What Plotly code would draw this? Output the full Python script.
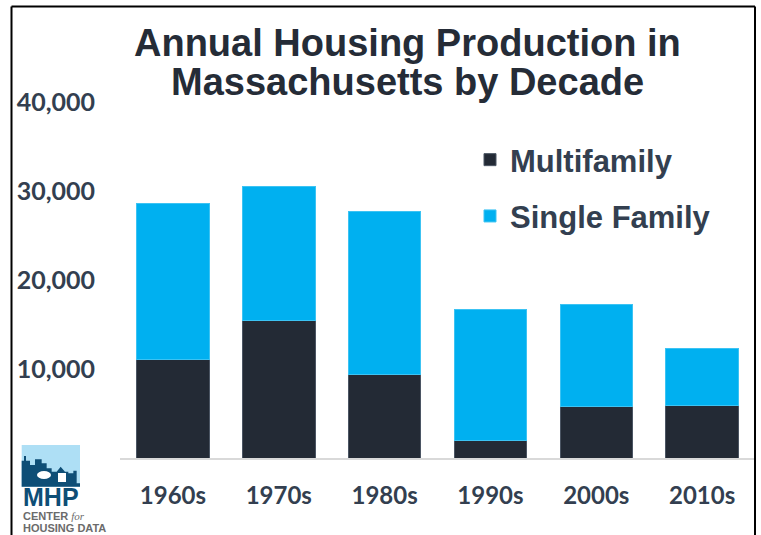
import plotly.graph_objects as go

decades = ["1960s", "1970s", "1980s", "1990s", "2000s", "2010s"]
multifamily = [11100, 15400, 9400, 2000, 5800, 5900]
single_family = [17500, 15100, 18300, 14700, 11400, 6400]
y_tickvals = [10000, 20000, 30000, 40000]
y_ticktext = ["10,000", "20,000", "30,000", "40,000"]

W, H = 761, 535
ML, MR, MT, MB = 120, 6, 102, 77
PW, PH = W - ML - MR, H - MT - MB


def px(x):
    return (x - ML) / PW


def py(y):
    return (H - MB - y) / PH


LABEL = "#333F50"
TITLE = "#252C37"
DARK = "#232A35"
BLUE = "#00B0F0"
ARIAL = "Liberation Sans, Arial, sans-serif"
NARROW = "Liberation Sans Narrow, Arial Narrow, sans-serif"

fig = go.Figure()
fig.add_trace(go.Bar(x=decades, y=multifamily, name="Multifamily", legendgroup="a",
                     marker=dict(color=DARK, line=dict(color="#4B5563", width=1))))
fig.add_trace(go.Bar(x=decades, y=single_family, name="Single Family", legendgroup="b",
                     marker=dict(color=BLUE, line=dict(color="#3CC3F3", width=1))))

fig.update_layout(
    width=W, height=H, autosize=False,
    margin=dict(l=ML, r=MR, t=MT, b=MB, pad=0),
    barmode="stack", bargap=0.315,
    paper_bgcolor="white", plot_bgcolor="white",
    showlegend=True,
    legend=dict(x=px(470), y=py(133), xanchor="left", yanchor="top",
                traceorder="grouped", tracegroupgap=13,
                font=dict(family=ARIAL, size=31, color=LABEL, weight="bold"),
                bgcolor="rgba(0,0,0,0)"),
    xaxis=dict(showgrid=False, showline=True, linecolor="#D9D9D9", linewidth=2,
               ticks="", ticklabelstandoff=15,
               tickfont=dict(family="Lato, sans-serif", size=24, color=LABEL, weight="bold")),
    yaxis=dict(range=[0, 40000], showgrid=False, zeroline=False, showline=False,
               tickvals=y_tickvals, ticktext=y_ticktext, ticks="", ticklabelstandoff=24,
               tickfont=dict(family="Lato, sans-serif", size=25, color=LABEL, weight="bold")),
)

# Title (two lines, tight spacing)
for txt, yc in [("Annual Housing Production in", 43), ("Massachusetts by Decade", 82)]:
    fig.add_annotation(text=txt, xref="paper", yref="paper", x=px(407), y=py(yc),
                       xanchor="center", yanchor="middle", showarrow=False,
                       font=dict(family=ARIAL, size=38, color=TITLE, weight="bold"))

# Frame border
border = dict(color="black", width=2)
fig.add_shape(type="line", xref="paper", yref="paper", x0=px(11.5), x1=px(11.5), y0=py(6.5), y1=py(560), line=border)
fig.add_shape(type="line", xref="paper", yref="paper", x0=px(11.5), x1=px(755), y0=py(6.5), y1=py(6.5), line=border)
fig.add_shape(type="line", xref="paper", yref="paper", x0=px(755), x1=px(755), y0=py(6.5), y1=py(560), line=border)

# Logo
fig.add_shape(type="rect", xref="paper", yref="paper", x0=px(21.7), x1=px(80), y0=py(445), y1=py(486.7),
              fillcolor="#AEDFF5", line=dict(width=0))
sky = [(35, 140), (35, 62), (42, 62), (42, 48), (48, 48), (48, 62), (60, 62), (60, 75), (75, 75),
       (75, 58), (95, 58), (95, 70), (110, 70), (110, 85), (125, 85), (125, 95), (140, 95), (152, 80),
       (165, 95), (175, 95), (175, 100), (190, 100), (190, 92), (200, 92), (200, 130), (210, 130),
       (210, 140)]
path = "M " + " L ".join(f"{px(10 + a / 3):.5f},{py(440 + b / 3):.5f}" for a, b in sky) + " Z"
fig.add_shape(type="path", xref="paper", yref="paper", path=path, fillcolor="#0E4E76", line=dict(width=0))
fig.add_shape(type="circle", xref="paper", yref="paper", x0=px(37), x1=px(51), y0=py(471), y1=py(479),
              fillcolor="white", line=dict(width=0))
fig.add_shape(type="rect", xref="paper", yref="paper", x0=px(58), x1=px(66), y0=py(473), y1=py(482),
              fillcolor="white", line=dict(width=0))
fig.add_annotation(text="MHP", xref="paper", yref="paper", x=px(51), y=py(497), xanchor="center",
                   yanchor="middle", showarrow=False, borderpad=0,
                   font=dict(family=ARIAL, size=25, color="#0E4E76", weight="bold"))
fig.add_annotation(text="CENTER <span style='font-family:Liberation Serif;font-style:italic;font-weight:normal'>for</span>",
                   xref="paper", yref="paper", x=px(22), y=py(516), xanchor="left",
                   yanchor="middle", showarrow=False, borderpad=0,
                   font=dict(family=NARROW, size=11, color="#6B6B6B", weight="bold"))
fig.add_annotation(text="HOUSING DATA", xref="paper", yref="paper", x=px(22), y=py(527.5), xanchor="left",
                   yanchor="middle", showarrow=False, borderpad=0,
                   font=dict(family=NARROW, size=11, color="#6B6B6B", weight="bold"))

fig.write_html("out.html", config={"displayModeBar": False},
               post_script="document.body.style.margin='0px';")
